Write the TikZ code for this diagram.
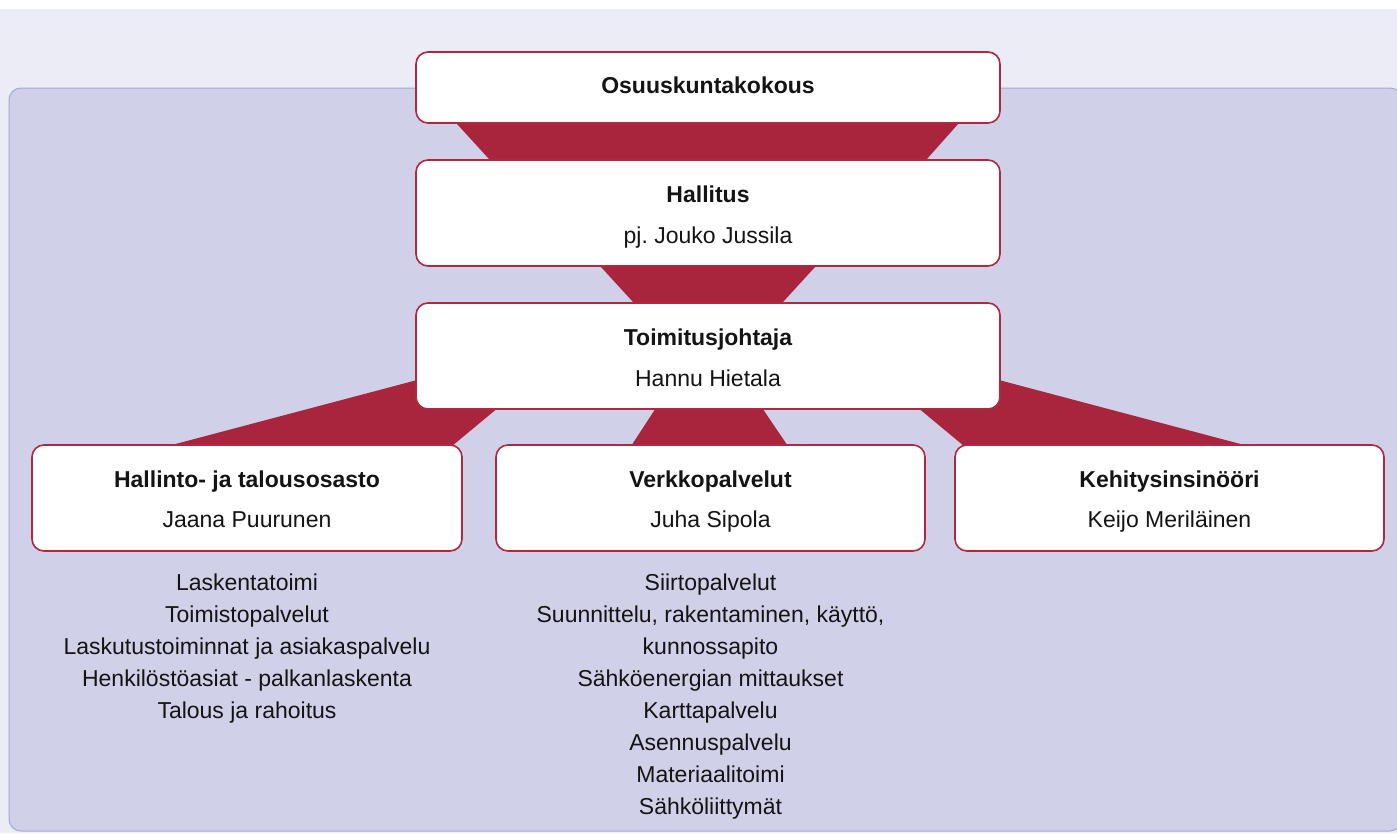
\documentclass[tikz,border=0pt]{standalone}
\usepackage{fontspec}
\setmainfont{Liberation Sans}
\usetikzlibrary{calc}
\frenchspacing
\definecolor{crim}{HTML}{A8253D}
\definecolor{crimline}{HTML}{B02840}
\definecolor{lav}{HTML}{ECECF6}
\definecolor{panelfill}{HTML}{D0D0E8}
\definecolor{panelline}{HTML}{A3A9D3}
\definecolor{ink}{HTML}{141414}
\pgfdeclarelayer{bg}
\pgfdeclarelayer{fans}
\pgfsetlayers{bg,fans,main}
\begin{document}
\begin{tikzpicture}[x=1pt,y=-1pt,
  box/.style={draw=crimline, line width=1.6pt, fill=white, rounded corners=12pt,
    rectangle, inner sep=0pt, minimum width=#1},
  ttl/.style={font=\fontsize{23}{28}\selectfont\bfseries, text=ink, inner sep=0pt, anchor=base},
  nm/.style={font=\fontsize{23}{28}\selectfont, text=ink, inner sep=0pt, anchor=base},
  fan/.style={fill=crim}]
\useasboundingbox (0,0) rectangle (1397,833);

% boxes
\node[box=584pt, minimum height=71pt] (osu) at (708,87.5) {};
\node[box=584pt, minimum height=106pt] (hal) at (708,213) {};
\node[box=584pt, minimum height=106pt] (toj) at (708,356) {};
\node[box=430pt, minimum height=106pt] (hto) at (247,498) {};
\node[box=429pt, minimum height=106pt] (ver) at (710.5,498) {};
\node[box=429pt, minimum height=106pt] (keh) at (1169.5,498) {};

% box texts
\node[ttl] (osuT) at ($(osu.north)+(0,42.5)$) {Osuuskuntakokous};
\node[ttl] (halT) at ($(hal.north)+(0,43)$) {Hallitus};
\node[nm]  (halN) at ($(hal.north)+(0,84)$) {pj. Jouko Jussila};
\node[ttl] (tojT) at ($(toj.north)+(0,43)$) {Toimitusjohtaja};
\node[nm]  (tojN) at ($(toj.north)+(0,84)$) {Hannu Hietala};
\node[ttl] (htoT) at ($(hto.north)+(0,43)$) {Hallinto- ja talousosasto};
\node[nm]  (htoN) at ($(hto.north)+(0,83)$) {Jaana Puurunen};
\node[ttl] (verT) at ($(ver.north)+(0,43)$) {Verkkopalvelut};
\node[nm]  (verN) at ($(ver.north)+(0,83)$) {Juha Sipola};
\node[ttl] (kehT) at ($(keh.north)+(0,43)$) {Kehitysinsinööri};
\node[nm]  (kehN) at ($(keh.north)+(0,83)$) {Keijo Meriläinen};

% task lists
\foreach \t [count=\i] in {Laskentatoimi, Toimistopalvelut,
  Laskutustoiminnat ja asiakaspalvelu, Henkilöstöasiat - palkanlaskenta,
  Talous ja rahoitus}
  \node[nm] (hl\i) at ($(hto.south)+(0,39+32*\i-32)$) {\t};
\foreach \t [count=\i] in {Siirtopalvelut, {Suunnittelu, rakentaminen, käyttö,},
  kunnossapito, Sähköenergian mittaukset, Karttapalvelu, Asennuspalvelu,
  Materiaalitoimi, Sähköliittymät}
  \node[nm] (vl\i) at ($(ver.south)+(0,39+32*\i-32)$) {\t};

% connectors
\begin{pgfonlayer}{fans}
\fill[fan] ($(osu.south)+(-253,-2)$) -- ($(osu.south)+(252,-2)$)
  -- ($(hal.north)+(217,2)$) -- ($(hal.north)+(-217,2)$) -- cycle;
\fill[fan] ($(hal.south)+(-109,-2)$) -- ($(hal.south)+(109,-2)$)
  -- ($(toj.north)+(73,2)$) -- ($(toj.north)+(-73,2)$) -- cycle;
\fill[fan] ($(hto.north)+(-76,1)$) -- ($(toj.west)+(2,24)$)
  -- ($(toj.south)+(-210,-2)$) -- ($(hto.north)+(206,1)$) -- cycle;
\fill[fan] ($(toj.south)+(-52,-2)$) -- ($(toj.south)+(54,-2)$)
  -- ($(ver.north)+(77.5,2)$) -- ($(ver.north)+(-79.5,2)$) -- cycle;
\fill[fan] ($(keh.north)+(75.5,1)$) -- ($(toj.east)+(-2,24)$)
  -- ($(toj.south)+(210,-2)$) -- ($(keh.north)+(-206.5,1)$) -- cycle;
\end{pgfonlayer}

% background
\begin{pgfonlayer}{bg}
\fill[white] (0,0) rectangle (1397,833);
\fill[lav] (0,9) rectangle (1397,833);
\draw[panelline, fill=panelfill, line width=1pt, rounded corners=12pt] (9,88) rectangle (1402,831);
\end{pgfonlayer}
\end{tikzpicture}
\end{document}
